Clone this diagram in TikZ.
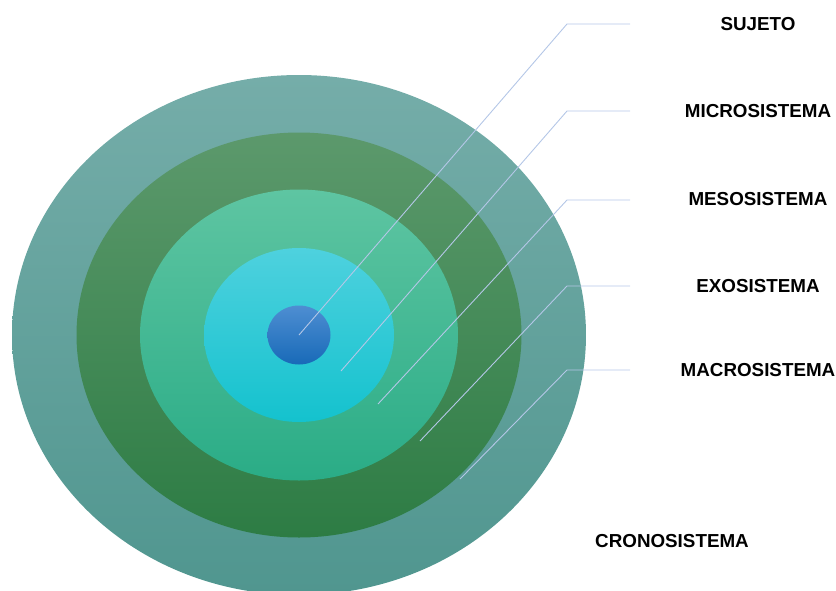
\documentclass[tikz,border=0pt]{standalone}
\usepackage{fontspec}
\setmainfont{Liberation Sans}
\usetikzlibrary{shapes.geometric}
\definecolor{cronotop}{RGB}{117,173,169}
\definecolor{cronobot}{RGB}{80,150,143}
\definecolor{macrotop}{RGB}{92,153,108}
\definecolor{macrobot}{RGB}{45,124,68}
\definecolor{exotop}{RGB}{94,197,162}
\definecolor{exobot}{RGB}{42,172,134}
\definecolor{mesotop}{RGB}{78,209,222}
\definecolor{mesobot}{RGB}{20,194,206}
\definecolor{sujetotop}{RGB}{78,142,210}
\definecolor{sujetobot}{RGB}{24,106,184}
\definecolor{leadercolor}{RGB}{180,199,231}

\begin{document}
\begin{tikzpicture}[x=1pt, y=-1pt]
    \tikzstyle{ring} = [ellipse, inner sep=0pt, outer sep=0pt]
    \tikzstyle{leader} = [draw=leadercolor, line width=0.9pt]
    \tikzstyle{label} = [font=\fontsize{18.8}{21}\selectfont\bfseries, anchor=center]
    \useasboundingbox (0,0) rectangle (836,590);
    \clip (0,0) rectangle (836,590);

    % rings, outermost first
    \node[ring, minimum width=574, minimum height=520, top color=cronotop, bottom color=cronobot] (crono) at (299,335) {};
    \node[ring, minimum width=445, minimum height=405, top color=macrotop, bottom color=macrobot] (macro) at (299,335) {};
    \node[ring, minimum width=318, minimum height=291, top color=exotop, bottom color=exobot] (exo) at (299,335) {};
    \node[ring, minimum width=190, minimum height=174, top color=mesotop, bottom color=mesobot] (meso) at (299,335) {};
    \node[ring, minimum width=63, minimum height=59, top color=sujetotop, bottom color=sujetobot] (sujeto) at (299,335) {};

    % labels
    \node[label] (sujeto-lbl) at (758,24) {SUJETO};
    \node[label] (micro-lbl) at (758,111) {MICROSISTEMA};
    \node[label] (meso-lbl) at (758,199) {MESOSISTEMA};
    \node[label] (exo-lbl) at (758,286) {EXOSISTEMA};
    \node[label] (macro-lbl) at (758,370) {MACROSISTEMA};
    \node[label] (crono-lbl) at (672,541) {CRONOSISTEMA};

    % leader lines
    \coordinate (micro-pt) at (341,371);
    \coordinate (meso-pt) at (378,404);
    \coordinate (exo-pt) at (420,441);
    \coordinate (macro-pt) at (460,479);
    \coordinate (sujeto-knee) at (567,24);
    \coordinate (micro-knee) at (567,111);
    \coordinate (meso-knee) at (567,200);
    \coordinate (exo-knee) at (567,286);
    \coordinate (macro-knee) at (567,370);
    \coordinate (sujeto-end) at (630,24);
    \coordinate (micro-end) at (630,111);
    \coordinate (meso-end) at (630,200);
    \coordinate (exo-end) at (630,286);
    \coordinate (macro-end) at (630,370);
    \draw[leader] (sujeto.center) -- (sujeto-knee) -- (sujeto-end);
    \draw[leader] (micro-pt) -- (micro-knee) -- (micro-end);
    \draw[leader] (meso-pt) -- (meso-knee) -- (meso-end);
    \draw[leader] (exo-pt) -- (exo-knee) -- (exo-end);
    \draw[leader] (macro-pt) -- (macro-knee) -- (macro-end);
\end{tikzpicture}
\end{document}
